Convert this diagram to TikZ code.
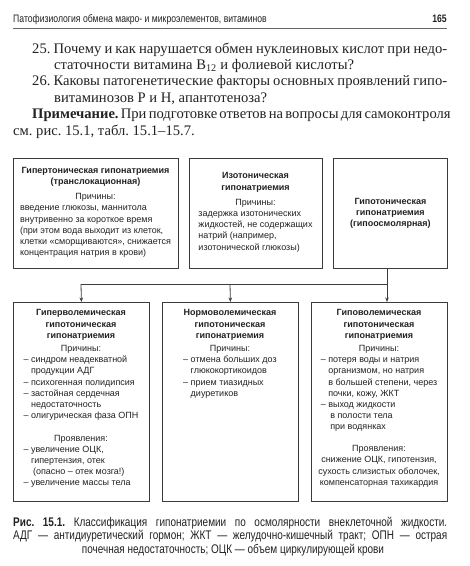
\documentclass[tikz,border=0pt]{standalone}
\usepackage{fontspec}
\setmainfont{Liberation Serif}
\newfontfamily\boxfont{Liberation Sans}
\newfontfamily\condfont[FakeStretch=0.8]{Liberation Sans}
\usetikzlibrary{arrows.meta}
\definecolor{ink}{HTML}{222222}
\definecolor{frame}{HTML}{3C3C3C}
\newcommand\lind{\hspace*{7.5pt}}
\tikzset{
  boxframe/.style={draw=frame, line width=0.8pt, inner sep=0pt, anchor=north west},
  boxtxt/.style={font=\boxfont\fontsize{9}{11.2}\selectfont, align=center, inner sep=0pt, text=ink},
  bodyline/.style={font=\fontsize{14.6}{16.4}\selectfont, inner sep=0pt, anchor=base west, text=ink},
  capline/.style={font=\condfont\fontsize{12.5}{14}\selectfont, inner sep=0pt, text=ink},
  conn/.style={draw=frame, line width=0.8pt},
  arr/.style={conn, -{Stealth[length=4.5pt,width=3.5pt]}}
}
\begin{document}
\frenchspacing
\begin{tikzpicture}[x=1pt,y=-1pt]
\useasboundingbox (0,0) rectangle (470,566);
\fill[white] (0,0) rectangle (470,566);
% header
\node[capline, font=\condfont\fontsize{10.8}{12}\selectfont, anchor=base west] (hd) at (13,22) {Патофизиология обмена макро- и микроэлементов, витаминов};
\node[capline, font=\condfont\bfseries\fontsize{10.8}{12}\selectfont, anchor=base east] (pg) at (447,22) {165};
\draw[draw=black!60, line width=1pt] (13,28) -- (447,28);
% body text
\node[bodyline] (l1) at (32,53) {\spaceskip=3.65pt plus 4pt minus 1.4pt\makebox[415pt][s]{25. Почему и как нарушается обмен нуклеиновых кислот при недо-}};
\node[bodyline] (l2) at (54,69.4) {статочности витамина B\textsubscript{12} и фолиевой кислоты?};
\node[bodyline] (l3) at (32,85.8) {\spaceskip=3.65pt plus 4pt minus 1.4pt\makebox[415pt][s]{26. Каковы патогенетические факторы основных проявлений гипо-}};
\node[bodyline] (l4) at (54,102.2) {витаминозов P и H, апантотеноза?};
\node[bodyline] (l5) at (32,118.6) {\spaceskip=3.65pt plus 4pt minus 1.4pt\makebox[415pt][s]{\textbf{Примечание.} При подготовке ответов на вопросы для самоконтроля}};
\node[bodyline] (l6) at (13,135) {см. рис. 15.1, табл. 15.1--15.7.};
% top boxes
\node[boxframe, minimum width=165pt, minimum height=110pt] (b1) at (13,158) {};
\node[boxframe, minimum width=133pt, minimum height=110pt] (b2) at (189,158) {};
\node[boxframe, minimum width=114pt, minimum height=110pt] (b3) at (333,158) {};
\node[boxtxt, anchor=north] (t1) at (95.5,167) {\textbf{Гипертоническая гипонатриемия}\\
\textbf{(транслокационная)}\\[4pt]
Причины:\\
\begin{tabular}[t]{@{}l@{}}введение глюкозы, маннитола\\ внутривенно за короткое время\\ (при этом вода выходит из клеток,\\ клетки «сморщиваются», снижается\\ концентрация натрия в крови)\end{tabular}};
\node[boxtxt, anchor=north] (t2) at (255.5,172.5) {\textbf{Изотоническая}\\
\textbf{гипонатриемия}\\[4pt]
Причины:\\
\begin{tabular}[t]{@{}l@{}}задержка изотонических\\ жидкостей, не содержащих\\ натрий (например,\\ изотонической глюкозы)\end{tabular}};
\node[boxtxt] (t3) at (b3.center) {\textbf{Гипотоническая}\\ \textbf{гипонатриемия}\\ \textbf{(гипоосмолярная)}};
% bottom boxes
\node[boxframe, minimum width=136pt, minimum height=199pt] (b4) at (13,302) {};
\node[boxframe, minimum width=136pt, minimum height=199pt] (b5) at (162,302) {};
\node[boxframe, minimum width=136pt, minimum height=199pt] (b6) at (311,302) {};
\node[boxtxt, anchor=north] (t4) at (81,309.5) {\textbf{Гиперволемическая}\\ \textbf{гипотоническая}\\ \textbf{гипонатриемия}\\[2pt]
Причины:\\
\begin{tabular}[t]{@{}l@{}}– синдром неадекватной\\ \lind продукции АДГ\\ – психогенная полидипсия\\ – застойная сердечная\\ \lind недостаточность\\ – олигурическая фаза ОПН\\[11.2pt]
\multicolumn{1}{@{}c@{}}{Проявления:}\\
– увеличение ОЦК,\\ \lind гипертензия, отек\\ \lind\hspace*{2pt}(опасно – отек мозга!)\\ – увеличение массы тела\end{tabular}};
\node[boxtxt, anchor=north] (t5) at (230,309.5) {\textbf{Нормоволемическая}\\ \textbf{гипотоническая}\\ \textbf{гипонатриемия}\\[2pt]
Причины:\\
\begin{tabular}[t]{@{}l@{}}– отмена больших доз\\ \lind глюкокортикоидов\\ – прием тиазидных\\ \lind диуретиков\end{tabular}};
\node[boxtxt, anchor=north] (t6) at (379,309.5) {\textbf{Гиповолемическая}\\ \textbf{гипотоническая}\\ \textbf{гипонатриемия}\\[2pt]
Причины:\\
\begin{tabular}[t]{@{}l@{}}– потеря воды и натрия\\ \lind организмом, но натрия\\ \lind в большей степени, через\\ \lind почки, кожу, ЖКТ\\ – выход жидкости\\ \lind\hspace*{2pt}в полости тела\\ \lind\hspace*{2pt}при водянках\end{tabular}\\[11.2pt]
Проявления:\\
снижение ОЦК, гипотензия,\\ сухость слизистых оболочек,\\ компенсаторная тахикардия};
% connectors
\coordinate (jl) at (81,284);
\coordinate (jm) at (230,284);
\coordinate (jr) at (387,284);
\draw[conn] (jr |- b3.south) -- (jr) -- (jl);
\draw[arr] (jl) -- (b4.north);
\draw[arr] (jm) -- (b5.north);
\draw[arr] (jr) -- (jr |- b6.north);
% caption
\node[capline, anchor=base west] (c1) at (13,526) {\makebox[434pt][s]{\textbf{Рис. 15.1.} Классификация гипонатриемии по осмолярности внеклеточной жидкости.}};
\node[capline, anchor=base west] (c2) at (13,539.5) {\makebox[434pt][s]{АДГ — антидиуретический гормон; ЖКТ — желудочно-кишечный тракт; ОПН — острая}};
\node[capline, anchor=base] (c3) at (233,553) {почечная недостаточность; ОЦК — объем циркулирующей крови};
\end{tikzpicture}
\end{document}
